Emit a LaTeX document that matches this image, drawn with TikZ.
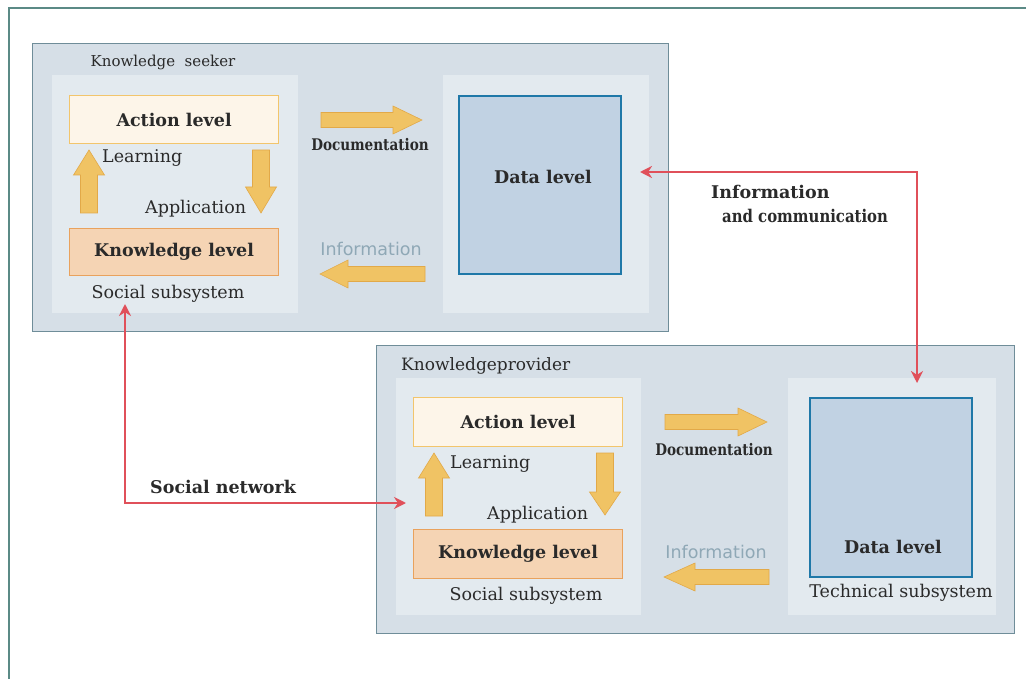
\documentclass[tikz,border=0pt]{standalone}
\usepackage{fontspec}
\setmainfont{DejaVu Serif}
\newfontfamily\infofont{DejaVu Sans}
\newfontfamily\condfont[FakeStretch=0.85]{DejaVu Serif}
\usetikzlibrary{arrows.meta}
\definecolor{framec}{HTML}{5B8A86}
\definecolor{outerfill}{HTML}{D6DFE7}
\definecolor{outerdraw}{HTML}{6F8D99}
\definecolor{panelfill}{HTML}{E3EAEF}
\definecolor{actfill}{HTML}{FDF5E9}
\definecolor{actdraw}{HTML}{F2C56C}
\definecolor{knfill}{HTML}{F5D4B4}
\definecolor{kndraw}{HTML}{E9A25D}
\definecolor{datafill}{HTML}{C1D2E3}
\definecolor{datadraw}{HTML}{1F78A8}
\definecolor{arrfill}{HTML}{F0C364}
\definecolor{arrdark}{HTML}{E2A948}
\definecolor{redc}{HTML}{E0505A}
\definecolor{infoc}{HTML}{8FA8B6}
\definecolor{txt}{HTML}{2A2A2A}
\newcommand\harrowblk[4]{% tail x, tip x, y, head base x
  \fill[arrfill,draw=arrdark,line width=0.6pt] (#1,#3-7.5) -- (#4,#3-7.5) -- (#4,#3-14) -- (#2,#3) -- (#4,#3+14) -- (#4,#3+7.5) -- (#1,#3+7.5) -- cycle;}
\newcommand\varrowblk[4]{% x, tail y, tip y, head base y
  \fill[arrfill,draw=arrdark,line width=0.6pt] (#1-8.5,#2) -- (#1-8.5,#4) -- (#1-15.5,#4) -- (#1,#3) -- (#1+15.5,#4) -- (#1+8.5,#4) -- (#1+8.5,#2) -- cycle;}
\tikzset{
  boxbase/.style={rectangle, inner sep=0pt, anchor=north west, line width=1.2pt},
  outerbox/.style={boxbase, fill=outerfill, draw=outerdraw},
  panel/.style={boxbase, fill=panelfill, draw=none},
  actbox/.style={boxbase, fill=actfill, draw=actdraw},
  knbox/.style={boxbase, fill=knfill, draw=kndraw},
  databox/.style={boxbase, fill=datafill, draw=datadraw, line width=1.6pt},
  boldlbl/.style={font=\fontsize{17.5}{20}\selectfont\bfseries, text=txt, inner sep=0pt},
  reglbl/.style={font=\fontsize{17.5}{20}\selectfont, text=txt, inner sep=0pt},
  smalllbl/.style={font=\fontsize{15}{18}\selectfont, text=txt, inner sep=0pt},
  provlblstyle/.style={font=\fontsize{17}{20}\selectfont, text=txt, inner sep=0pt},
  doclbl/.style={font=\condfont\fontsize{16}{18}\selectfont\bfseries, text=txt, inner sep=0pt},
  comlbl/.style={font=\condfont\fontsize{17.5}{20}\selectfont\bfseries, text=txt, inner sep=0pt},
  infolbl/.style={font=\infofont\fontsize{17.5}{20}\selectfont, text=infoc, inner sep=0pt},
  redline/.style={draw=redc, line width=2.4pt, {Stealth[length=12pt,width=12pt]}-{Stealth[length=12pt,width=12pt]}},
}
\begin{document}
\begin{tikzpicture}[x=1pt,y=-1pt]
\useasboundingbox (0,0) rectangle (1026,679);
\fill[white] (0,0) rectangle (1026,679);
\draw[framec, line width=1.6pt] (9,690) -- (9,8) -- (1040,8);
% ---------- top: knowledge seeker ----------
\node[outerbox, minimum width=636pt, minimum height=288pt] (seeker) at (32,43) {};
\node[panel, minimum width=246pt, minimum height=238pt] (spanel) at (51,74) {};
\node[panel, minimum width=206pt, minimum height=238pt] (tpanel) at (442,74) {};
\node[smalllbl] (seekerlbl) at (163,62) {Knowledge\ \ seeker};
\node[actbox, minimum width=209pt, minimum height=48pt] (act1) at (69,95) {};
\node[boldlbl] at (act1.center) {Action level};
\node[knbox, minimum width=209pt, minimum height=47pt] (kn1) at (69,228) {};
\node[boldlbl] at (kn1.center) {Knowledge level};
\node[databox, minimum width=162pt, minimum height=178pt] (data1) at (458,95) {};
\node[boldlbl] (data1lbl) at (543,177) {Data level};
\varrowblk{89}{213}{150}{175}
\varrowblk{261}{150}{213}{187}
\node[reglbl, anchor=west] (learn1) at (102,158) {Learning};
\node[reglbl, anchor=west] (app1) at (145,209) {Application};
\node[reglbl] (soc1) at (168,294) {Social subsystem};
\harrowblk{321}{422}{120}{393}
\node[doclbl] (doc1) at (370,145) {Documentation};
\node[infolbl] (inf1) at (371,249) {Information};
\harrowblk{425}{320}{274}{348}
% ---------- bottom: knowledge provider ----------
\node[outerbox, minimum width=638pt, minimum height=288pt] (provider) at (376,345) {};
\node[panel, minimum width=245pt, minimum height=237pt] (ppanel) at (395,377) {};
\node[panel, minimum width=208pt, minimum height=237pt] (tpanel2) at (787,377) {};
\node[provlblstyle, anchor=west] (provlbl) at (401,366) {Knowledgeprovider};
\node[actbox, minimum width=209pt, minimum height=49pt] (act2) at (413,397) {};
\node[boldlbl] at (act2.center) {Action level};
\node[knbox, minimum width=209pt, minimum height=49pt] (kn2) at (413,529) {};
\node[boldlbl] at (kn2.center) {Knowledge level};
\node[databox, minimum width=162pt, minimum height=179pt] (data2) at (809,397) {};
\node[boldlbl] (data2lbl) at (893,547) {Data level};
\node[reglbl] (tech) at (901,593) {Technical subsystem};
\varrowblk{434}{516}{453}{478}
\varrowblk{605}{453}{515}{492}
\node[reglbl, anchor=west] (learn2) at (450,464) {Learning};
\node[reglbl, anchor=west] (app2) at (487,515) {Application};
\node[reglbl] (soc2) at (526,596) {Social subsystem};
\harrowblk{665}{767}{422}{738}
\node[doclbl] (doc2) at (714,450) {Documentation};
\node[infolbl] (inf2) at (716,552) {Information};
\harrowblk{769}{664}{577}{695}
% ---------- red connectors ----------
\coordinate (c1a) at (640,172);
\coordinate (c1b) at (917,383);
\draw[redline] (c1a) -| (c1b);
\node[boldlbl, anchor=west] (ic1) at (711,192) {Information};
\node[comlbl, anchor=west] (ic2) at (722,216) {and communication};
\coordinate (c2a) at (125,304);
\coordinate (c2b) at (406,503);
\draw[redline] (c2a) |- (c2b);
\node[boldlbl, anchor=west] (sn) at (150,487) {Social network};
\end{tikzpicture}
\end{document}
